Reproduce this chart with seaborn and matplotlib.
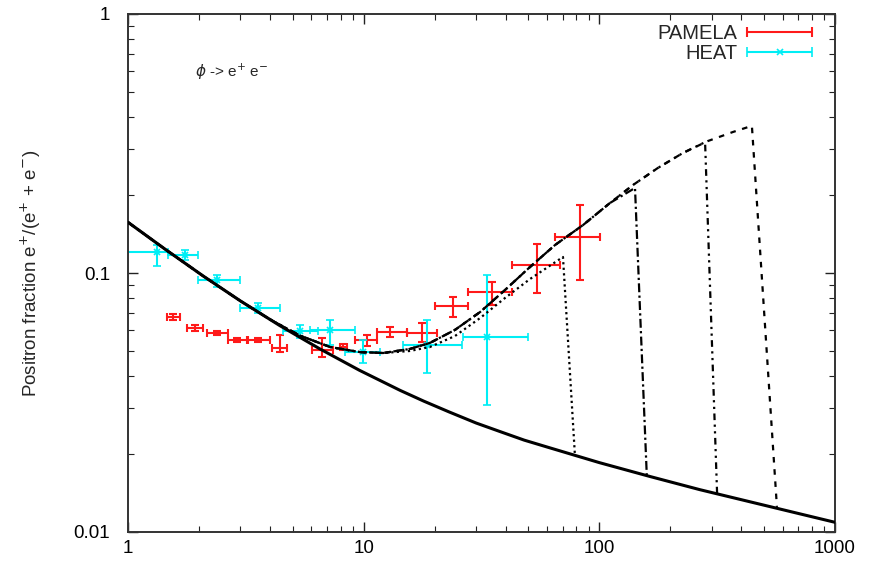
import numpy as np
import pandas as pd
import matplotlib
matplotlib.use("Agg")
import matplotlib.pyplot as plt
import seaborn as sns
from matplotlib.container import ErrorbarContainer
from matplotlib.legend_handler import HandlerErrorbar

# ---------------- data ----------------
# secondary (background) positron fraction
bg_energy = [1, 1.44, 2.08, 3.0, 4.4, 6.5, 9.6, 14.3, 18, 23, 30, 38, 48, 62, 100, 164,
             267, 436, 710, 1000]
bg_frac = [0.157, 0.1234, 0.0975, 0.0780, 0.0627, 0.0510, 0.0421, 0.0352, 0.0320, 0.0291,
           0.02635, 0.0244, 0.02263, 0.0211, 0.01853, 0.01638, 0.01457, 0.01308, 0.01175,
           0.0109]

# common envelope of the dark-matter curves (phi -> e+ e-)
env_energy = [1, 1.44, 2.08, 3.0, 4.0, 5.37, 7.2, 9.65, 12.1, 15.7, 19.1, 24.4, 31.2,
              39.8, 50.8, 64.9, 85.3, 111, 139, 177, 226, 289, 369]
env_frac = [0.157, 0.1234, 0.0975, 0.0780, 0.0662, 0.0573, 0.0518, 0.0495, 0.0491,
            0.0509, 0.0537, 0.0603, 0.0707, 0.0860, 0.1055, 0.1283, 0.1532, 0.1864,
            0.2187, 0.2543, 0.2905, 0.3233, 0.3503]

# lowest-mass curve runs a little below the envelope on its rise
low_rise_energy = [15.7, 19.1, 24.4, 31.2, 39.8, 50.8]
low_rise_frac = [0.0500, 0.0518, 0.0571, 0.0670, 0.0801, 0.0948]

# peak and cut-off of each curve
peak_energy = [70.1, 141.7, 281, 444]
peak_frac = [0.1153, 0.213, 0.320, 0.370]
cut_energy = [78.8, 159, 316, 567]
cut_frac = [0.0197, 0.0165, 0.0141, 0.0125]

# PAMELA
pam_E = [1.55, 1.92, 2.39, 2.90, 3.56, 4.42, 6.65, 8.17, 10.3, 12.9, 17.7, 23.9, 35.0, 54.4, 82.8]
pam_Elo = [1.46, 1.78, 2.17, 2.65, 3.23, 4.08, 6.04, 7.9, 9.18, 11.4, 15.3, 20.0, 27.6, 42.4, 64.8]
pam_Ehi = [1.66, 2.08, 2.65, 3.20, 4.00, 4.73, 7.42, 8.5, 11.4, 15.3, 20.4, 27.6, 42.4, 68.0, 100.5]
pam_f = [0.0676, 0.0613, 0.0587, 0.0551, 0.0551, 0.0513, 0.0504, 0.0518, 0.0551, 0.0592,
         0.0587, 0.0746, 0.0845, 0.1074, 0.1377]
pam_flo = [0.0660, 0.0595, 0.0575, 0.0541, 0.0541, 0.0497, 0.0474, 0.0505, 0.0521, 0.0568,
           0.0542, 0.0676, 0.0752, 0.0837, 0.094]
pam_fhi = [0.0692, 0.0631, 0.0599, 0.0561, 0.0561, 0.0578, 0.0561, 0.0531, 0.0578, 0.0620,
           0.0640, 0.0808, 0.0923, 0.1294, 0.183]

# HEAT
heat_E = [1.33, 1.75, 2.39, 3.56, 5.37, 7.20, 9.94, 18.6, 33.4]
heat_Elo = [0.95, 1.48, 1.98, 2.99, 4.54, 5.92, 8.33, 14.7, 26.4]
heat_Ehi = [1.48, 1.98, 2.99, 4.42, 6.40, 9.19, 11.7, 26.1, 49.8]
heat_f = [0.1205, 0.1173, 0.094, 0.0732, 0.0597, 0.0603, 0.0495, 0.0527, 0.0566]
heat_flo = [0.1064, 0.1122, 0.0883, 0.0701, 0.0561, 0.0527, 0.0449, 0.0411, 0.0309]
heat_fhi = [0.128, 0.1227, 0.0983, 0.0766, 0.0630, 0.0659, 0.0551, 0.0659, 0.0983]

x_ticks = [1, 10, 100, 1000]
x_ticklabels = ["1", "10", "100", "1000"]
y_ticks = [0.01, 0.1, 1]
y_ticklabels = ["0.01", "0.1", "1"]

# ---------------- plotting ----------------
sns.set_theme(style="ticks")
plt.rcParams["font.family"] = ["Liberation Sans", "DejaVu Sans"]
plt.rcParams["mathtext.fontset"] = "dejavusans"

RED = "#ff1a1a"
CYAN = "#00eef5"

fig = plt.figure(figsize=(8.81, 5.63), dpi=100)
ax = fig.add_axes([128 / 881, 1 - 532 / 563, 707 / 881, 518 / 563])
ax.set_xscale("log")
ax.set_yscale("log")
ax.set_xlim(1, 1000)
ax.set_ylim(0.01, 1)

# data points
ax.errorbar(pam_E, pam_f,
            xerr=[np.subtract(pam_E, pam_Elo), np.subtract(pam_Ehi, pam_E)],
            yerr=[np.subtract(pam_f, pam_flo), np.subtract(pam_fhi, pam_f)],
            fmt="none", ecolor=RED, elinewidth=1.5, capsize=3, capthick=1.5, zorder=2)
ax.errorbar(heat_E, heat_f,
            xerr=[np.subtract(heat_E, heat_Elo), np.subtract(heat_Ehi, heat_E)],
            yerr=[np.subtract(heat_f, heat_flo), np.subtract(heat_fhi, heat_f)],
            fmt="x", color=CYAN, ecolor=CYAN, ms=5, mew=1.2,
            elinewidth=1.5, capsize=3, capthick=1.5, zorder=2)

# background curve
sns.lineplot(data=pd.DataFrame({"E": bg_energy, "f": bg_frac}), x="E", y="f", ax=ax,
             color="black", lw=2.2, sort=False, estimator=None, zorder=3)

styles = [(0, (1, 1.5)), (0, (4, 1.5, 1, 1.5)), (0, (3, 2, 1, 2, 1, 2)), (0, (2.5, 3))]
for i in range(4):
    pts = [(e, f) for e, f in zip(env_energy, env_frac) if e < peak_energy[i] * 0.97]
    if i == 0:
        pts = [(e, f) for e, f in pts if e < low_rise_energy[0]]
        pts += list(zip(low_rise_energy, low_rise_frac))
    pts += [(peak_energy[i], peak_frac[i]), (cut_energy[i], cut_frac[i])]
    df = pd.DataFrame(pts, columns=["E", "f"])
    sns.lineplot(data=df, x="E", y="f", ax=ax, color="black", lw=1.6,
                 linestyle=styles[i], sort=False, estimator=None, zorder=3)

# axes styling
ax.set_xticks(x_ticks)
ax.set_xticklabels(x_ticklabels)
ax.set_yticks(y_ticks)
ax.set_yticklabels(y_ticklabels)
ax.tick_params(which="both", direction="in", top=True, right=True, colors="#222222")
ax.tick_params(which="major", length=7, width=1.0, labelsize=13.5, labelcolor="black")
ax.tick_params(axis="x", which="major", pad=6)
ax.tick_params(axis="y", which="major", pad=13)
ax.tick_params(which="minor", length=4, width=0.8)
for s in ax.spines.values():
    s.set_linewidth(1.4)
    s.set_color("#333333")
ax.set_xlabel("")
ax.set_ylabel(r"Positron fraction e$^{+}$/(e$^{+}$ + e$^{-}$)", fontsize=13.5)
ax.yaxis.set_label_coords(-0.120, 0.5)

ax.text(0.095, 0.888, r"$\phi$ -> e$^{+}$ e$^{-}$", transform=ax.transAxes,
        fontsize=11, va="center", ha="left")

# legend proxies (horizontal bars with caps)
p1 = ax.errorbar([1e-4], [1e-4], xerr=[[1e-5], [1e-5]], fmt="none", ecolor=RED,
                 elinewidth=1.5, capsize=3.5, capthick=1.5, label="PAMELA")
p2 = ax.errorbar([1e-4], [1e-4], xerr=[[1e-5], [1e-5]], fmt="x", color=CYAN,
                 ecolor=CYAN, ms=5, mew=1.2, elinewidth=1.5, capsize=3.5,
                 capthick=1.5, label="HEAT")
ax.set_xlim(1, 1000)
ax.set_ylim(0.01, 1)
fs_leg = 14.5
leg = ax.legend(handles=[p1, p2], labels=["PAMELA", "HEAT"], loc="upper right",
                bbox_to_anchor=(1 - 11 / 707, 1 + 2 / 518),
                markerfirst=False, frameon=False, fontsize=fs_leg, handlelength=3.2,
                handletextpad=0.5, labelspacing=0.05, borderaxespad=0.2,
                handler_map={ErrorbarContainer: HandlerErrorbar(xerr_size=1.6)})

fig.savefig("out.png", dpi=100)
